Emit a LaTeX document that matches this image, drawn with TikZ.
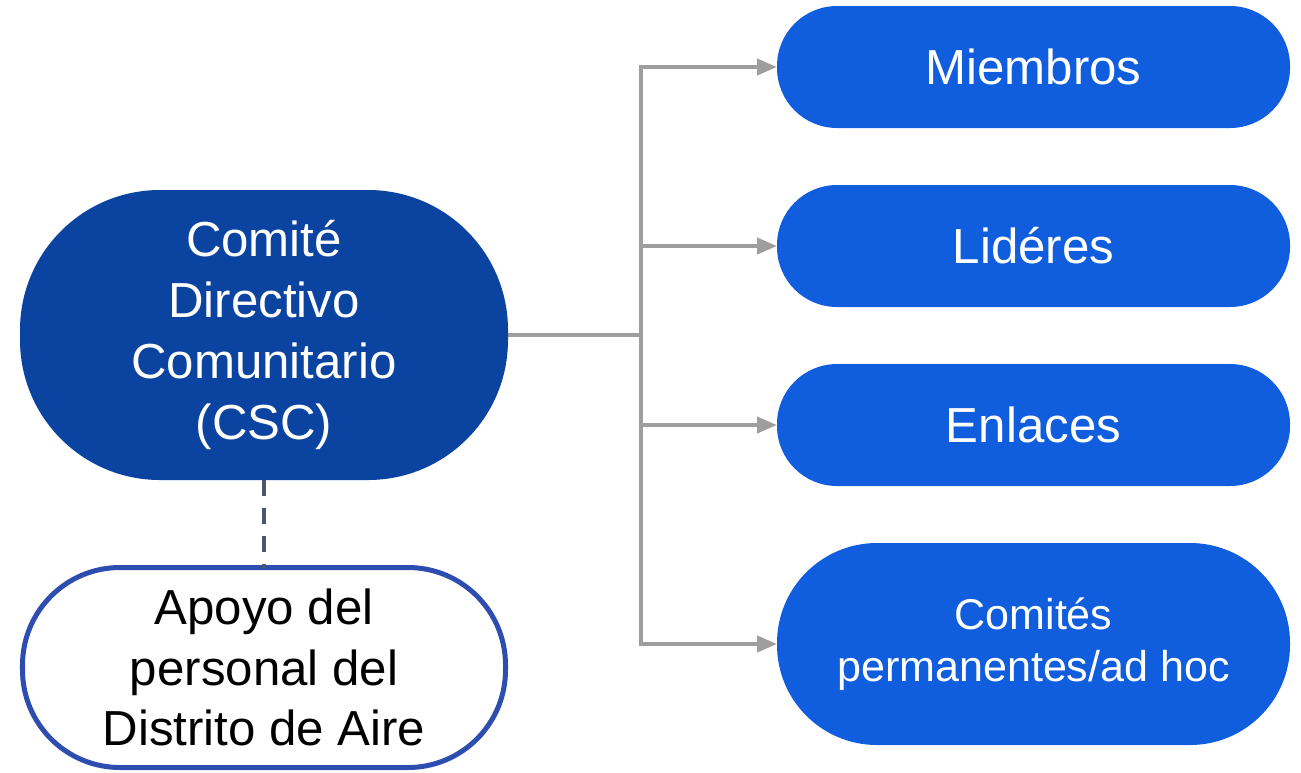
\documentclass[tikz,border=0pt]{standalone}
\usepackage{fontspec}
\setmainfont{Liberation Sans}
\usetikzlibrary{positioning}
\usetikzlibrary{arrows.meta}

\definecolor{cscblue}{RGB}{11,67,160}
\definecolor{itemblue}{RGB}{16,94,222}
\definecolor{apoyoblue}{RGB}{46,77,176}
\definecolor{linkgray}{RGB}{158,158,158}
\definecolor{dashgray}{RGB}{74,86,110}

\tikzset{
  big/.style={font=\fontsize{28}{34.6}\selectfont},
  small/.style={font=\fontsize{24.5}{30}\selectfont},
  csc/.style={fill=cscblue, text=white, rounded corners=2.8cm, minimum width=9.76cm,
    minimum height=5.8cm, align=center, inner sep=0pt, outer sep=0pt, big},
  apoyo/.style={draw=apoyoblue, line width=0.1cm, fill=white, text=black, rounded corners=1.95cm,
    minimum width=9.66cm, minimum height=4.0cm, align=center, inner sep=0pt, outer sep=0pt, big},
  item/.style={fill=itemblue, text=white, rounded corners=1.2cm, minimum width=10.26cm,
    minimum height=2.44cm, align=center, inner sep=0pt, outer sep=0pt, big},
  link/.style={draw=linkgray, line width=0.08cm},
  tip/.style={-{Triangle[length=0.4cm,width=0.32cm]}},
  support/.style={draw=dashgray, line width=0.07cm, dash pattern=on 0.32cm off 0.24cm}
}

\begin{document}
\begin{tikzpicture}

        \useasboundingbox (0,0) rectangle (26.02,-15.44);

        % Define nodes
        \node[csc]                          (csc) at (5.28,-6.70) {Comité\\Directivo\\Comunitario\\(CSC)};
        \node[apoyo, below=1.75cm of csc]   (apoyo) {Apoyo del\\personal del\\Distrito de Aire};
        \node[item]                         (miembros) at (20.67,-1.34) {Miembros};
        \node[item, below=1.14cm of miembros] (lideres) {Lidéres};
        \node[item, below=1.14cm of lideres]  (enlaces) {Enlaces};
        \node[item, below=1.14cm of enlaces, minimum height=4.04cm, rounded corners=2cm, small]
                                            (comites) {Comités\\permanentes/ad hoc};
        \coordinate[right=2.66cm of csc]    (spine);

        % Connect the nodes
        \draw[link] (csc) -- (spine);
        \foreach \t in {miembros, lideres, enlaces, comites}
          \draw[link, tip] (spine) |- (\t);
        \draw[support] (csc) -- (apoyo);

\end{tikzpicture}
\end{document}
